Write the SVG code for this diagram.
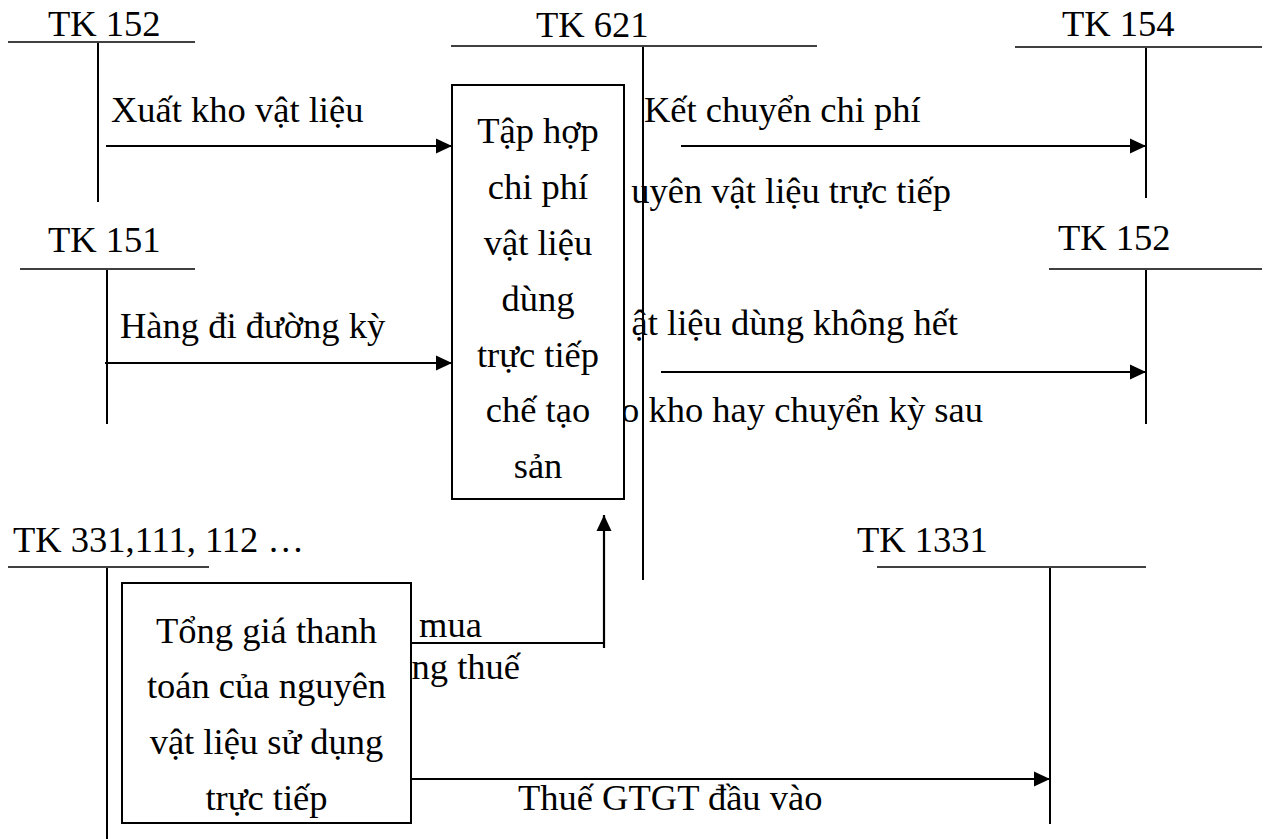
<svg xmlns="http://www.w3.org/2000/svg" width="1269" height="839" viewBox="0 0 1269 839">
<style>
text{font-family:"Liberation Serif","Times New Roman",serif;font-size:36.5px;fill:#000}
.c{text-anchor:middle}
.e{text-anchor:end}
.t{stroke:#000;stroke-width:1.6;fill:none}
.v{stroke:#000;stroke-width:2;fill:none}
.a{stroke:#000;stroke-width:2.2;fill:none}
.box{fill:#fff;stroke:#000;stroke-width:2}
</style>
<defs>
<marker id="ah" markerUnits="userSpaceOnUse" markerWidth="16" markerHeight="16" refX="16" refY="8" orient="auto">
<path d="M0,0.5 L16,8 L0,15.5 z" fill="#000"/>
</marker>
</defs>
<rect width="1269" height="839" fill="#fff"/>

<g id="tk152-left">
<line class="t" x1="8" y1="42" x2="195" y2="42"/>
<line class="v" x1="98" y1="43" x2="98" y2="202"/>
<text x="48" y="36">TK 152</text>
</g>
<g id="tk151">
<line class="t" x1="20" y1="269" x2="195" y2="269"/>
<line class="v" x1="107" y1="270" x2="107" y2="424"/>
<text x="48" y="252">TK 151</text>
</g>
<g id="tk331">
<line class="t" x1="8" y1="567" x2="209" y2="567"/>
<line class="v" x1="107" y1="568" x2="107" y2="839"/>
<text x="13" y="552">TK 331,111, 112 …</text>
</g>
<g id="tk621">
<line class="t" x1="451" y1="46" x2="817" y2="46"/>
<line class="v" x1="643" y1="47" x2="643" y2="580"/>
<text x="536" y="37">TK 621</text>
</g>
<g id="tk154">
<line class="t" x1="1015" y1="47" x2="1262" y2="47"/>
<line class="v" x1="1146" y1="48" x2="1146" y2="198"/>
<text x="1062" y="36">TK 154</text>
</g>
<g id="tk152-right">
<line class="t" x1="1049" y1="269" x2="1262" y2="269"/>
<line class="v" x1="1146" y1="270" x2="1146" y2="424"/>
<text x="1058" y="250">TK 152</text>
</g>
<g id="tk1331">
<line class="t" x1="877" y1="567" x2="1146" y2="567"/>
<line class="v" x1="1050" y1="568" x2="1050" y2="824"/>
<text x="857" y="552">TK 1331</text>
</g>

<g id="connectors">
<line class="a" x1="106" y1="146" x2="452" y2="146" marker-end="url(#ah)"/>
<line class="a" x1="105" y1="363" x2="452" y2="363" marker-end="url(#ah)"/>
<line class="a" x1="681" y1="146" x2="1146" y2="146" marker-end="url(#ah)"/>
<line class="a" x1="661" y1="372" x2="1146" y2="372" marker-end="url(#ah)"/>
<polyline class="a" points="411,643 604,643"/>
<line class="a" x1="604" y1="648" x2="604" y2="515" marker-end="url(#ah)"/>
<line class="a" x1="411" y1="779" x2="1050" y2="779" marker-end="url(#ah)"/>
<text x="111" y="122">Xuất kho vật liệu</text>
<text x="120" y="338">Hàng đi đường kỳ</text>
<text x="644" y="122">Kết chuyển chi phí</text>
<text class="e" x="951" y="203">uyên vật liệu trực tiếp</text>
<text class="e" x="958" y="335">ật liệu dùng không hết</text>
<text class="e" x="983" y="422">o kho hay chuyển kỳ sau</text>
<text x="419" y="637">mua</text>
<text class="e" x="520" y="679">ng thuế</text>
<text x="518" y="810">Thuế GTGT đầu vào</text>
</g>

<g id="box-tap-hop">
<rect class="box" x="452" y="85" width="172" height="414"/>
<text class="c" x="538" y="143">Tập hợp</text>
<text class="c" x="538" y="199">chi phí</text>
<text class="c" x="538" y="255">vật liệu</text>
<text class="c" x="538" y="311">dùng</text>
<text class="c" x="538" y="367">trực tiếp</text>
<text class="c" x="538" y="422">chế tạo</text>
<text class="c" x="538" y="478">sản</text>
</g>

<g id="box-tong-gia">
<rect class="box" x="122" y="583" width="289" height="240"/>
<text class="c" x="266.5" y="643">Tổng giá thanh</text>
<text class="c" x="266.5" y="698">toán của nguyên</text>
<text class="c" x="266.5" y="754">vật liệu sử dụng</text>
<text class="c" x="266.5" y="810">trực tiếp</text>
</g>
</svg>
